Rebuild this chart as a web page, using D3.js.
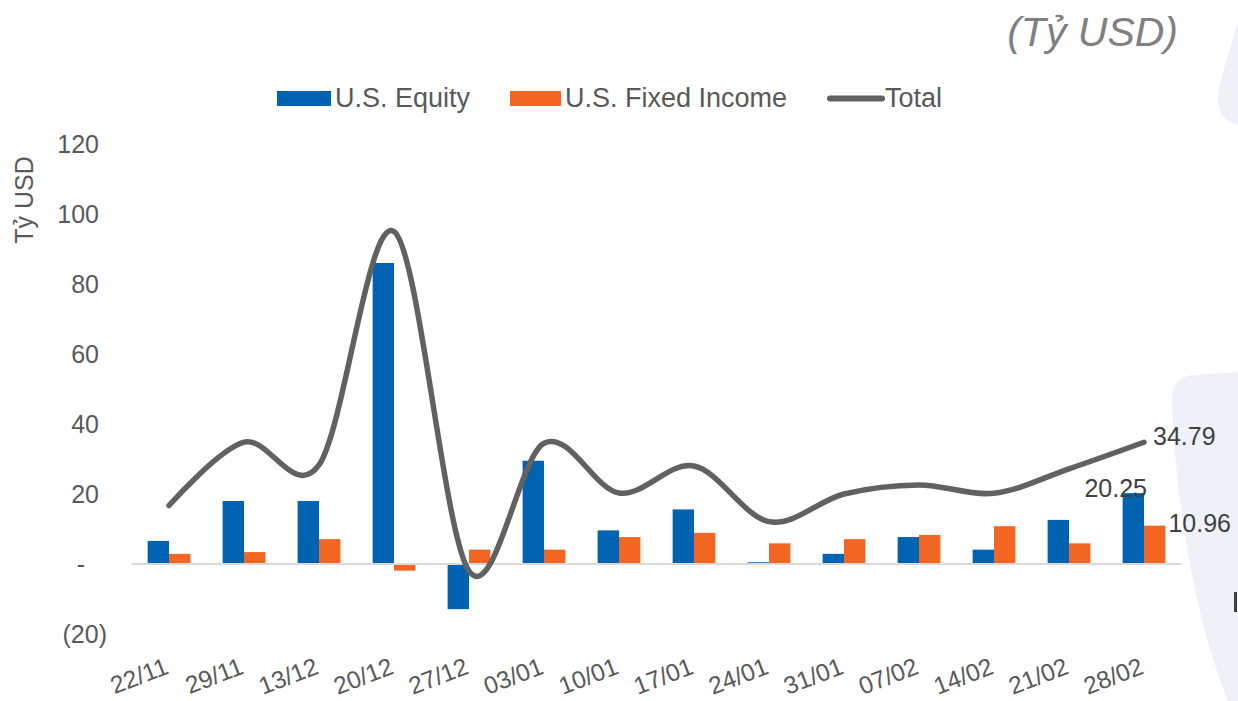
<!DOCTYPE html>
<html>
<head>
<meta charset="utf-8">
<script src="https://cdn.jsdelivr.net/npm/d3@7/dist/d3.min.js"></script>
<style>
  html, body { margin: 0; padding: 0; background: #ffffff; }
  svg { display: block; font-family: "Liberation Sans", Arial, sans-serif; }
</style>
</head>
<body>
<svg id="chart" width="1238" height="701"></svg>
<script>
// ---- data ----
const categories = ["22/11","29/11","13/12","20/12","27/12","03/01","10/01","17/01","24/01","31/01","07/02","14/02","21/02","28/02"];
const equity     = [6.6, 18.0, 18.0, 86.0, -12.9, 29.5, 9.6, 15.6, 0.5, 2.9, 7.7, 4.1, 12.6, 20.25];
const fixedIncome= [2.9, 3.4, 7.1, -1.9, 4.1, 4.1, 7.7, 8.9, 5.9, 7.1, 8.3, 10.8, 5.9, 10.96];
const total      = [16.7, 34.8, 28.3, 95.0, -2.0, 34.5, 20.3, 28.0, 12.1, 20.0, 22.6, 20.2, 27.2, 34.79];
const yTicks     = [-20, 0, 20, 40, 60, 80, 100, 120];
const seriesNames= ["U.S. Equity", "U.S. Fixed Income", "Total"];

// ---- styles ----
const BLUE = "#0063B2", ORANGE = "#F26522", GREY = "#616161", TXT = "#595959";

const svg = d3.select("#chart");

// background decorations
svg.append("path")
  .attr("d", "M1238,372 L1192,375 Q1172,378 1172,400 C1175,500 1195,620 1228,701 L1238,701 Z")
  .attr("fill", "#eef2f8");
svg.append("path")
  .attr("d", "M1238,22 C1230,50 1219,80 1218,100 Q1219,121 1238,125 Z")
  .attr("fill", "#eef2f8");
svg.append("rect").attr("x", 1234).attr("y", 592).attr("width", 3).attr("height", 20).attr("fill", "#404040");

// ---- scales ----
const x = d3.scaleBand().domain(categories).range([131.5, 1181.5]).paddingInner(0.43).paddingOuter(0.215);
const xs = d3.scaleBand().domain(["eq", "fi"]).range([0, x.bandwidth()]);
const y = d3.scaleLinear().domain([-20, 120]).range([634, 144]);

// ---- title ----
svg.append("text").attr("x", 1178).attr("y", 46).attr("text-anchor", "end")
  .attr("font-size", 41).attr("font-style", "italic").attr("fill", "#808080").text("(Tỷ USD)");

// ---- y axis ----
const yAxis = svg.append("g").attr("transform", "translate(107,0)")
  .call(d3.axisLeft(y).tickValues(yTicks).tickSize(0).tickPadding(0)
    .tickFormat(d => d === 0 ? "-" : (d < 0 ? "(" + Math.abs(d) + ")" : String(d))));
yAxis.select(".domain").remove();
yAxis.selectAll("text")
  .attr("font-size", 25).attr("fill", TXT).attr("font-family", "Liberation Sans, Arial, sans-serif")
  .attr("x", d => d < 0 ? 0 : (d === 0 ? -22 : -8));

svg.append("text")
  .attr("transform", "translate(33,200) rotate(-90)")
  .attr("text-anchor", "middle").attr("font-size", 25).attr("fill", TXT).text("Tỷ USD");

// ---- bars ----
const g = svg.append("g");
const groups = g.selectAll("g.grp").data(categories).join("g")
  .attr("class", "grp").attr("transform", d => `translate(${x(d)},0)`);
groups.append("rect")
  .attr("x", xs("eq")).attr("width", xs.bandwidth())
  .attr("y", (d, i) => y(Math.max(0, equity[i])))
  .attr("height", (d, i) => Math.abs(y(equity[i]) - y(0)))
  .attr("fill", BLUE);
groups.append("rect")
  .attr("x", xs("fi")).attr("width", xs.bandwidth())
  .attr("y", (d, i) => y(Math.max(0, fixedIncome[i])))
  .attr("height", (d, i) => Math.abs(y(fixedIncome[i]) - y(0)))
  .attr("fill", ORANGE);

// baseline
svg.append("line").attr("x1", x.range()[0]).attr("x2", x.range()[1])
  .attr("y1", y(0)).attr("y2", y(0)).attr("stroke", "#d9d9d9").attr("stroke-width", 2);

// ---- total line ----
const line = d3.line()
  .x((d, i) => x(categories[i]) + x.bandwidth() / 2)
  .y(d => y(d))
  .curve(d3.curveCardinal.tension(0));
svg.append("path").datum(total).attr("d", line)
  .attr("fill", "none").attr("stroke", GREY).attr("stroke-width", 5.5)
  .attr("stroke-linecap", "round").attr("stroke-linejoin", "round");

// ---- data labels (last point) ----
const last = categories.length - 1;
const lc = categories[last];
svg.append("text").attr("x", x(lc) + x.bandwidth() / 2 + 9).attr("y", y(total[last]) + 3)
  .attr("font-size", 25).attr("fill", "#404040").text(total[last].toFixed(2));
svg.append("text").attr("x", x(lc) + xs("eq") + xs.bandwidth() + 3).attr("y", y(equity[last]) + 4)
  .attr("text-anchor", "end").attr("font-size", 25).attr("fill", "#404040").text(equity[last].toFixed(2));
svg.append("text").attr("x", x(lc) + x.bandwidth() + 3).attr("y", y(fixedIncome[last]) + 6)
  .attr("font-size", 25).attr("fill", "#404040").text(fixedIncome[last].toFixed(2));

// ---- x axis labels ----
svg.append("g").selectAll("text").data(categories).join("text")
  .attr("transform", d => `translate(${x(d) + x.bandwidth() / 2 + 1},${673}) rotate(-21)`)
  .attr("text-anchor", "end").attr("font-size", 24.5).attr("fill", TXT).text(d => d);

// ---- legend ----
const leg = svg.append("g");
leg.append("rect").attr("x", 277).attr("y", 91).attr("width", 54).attr("height", 15).attr("fill", BLUE);
leg.append("text").attr("x", 335).attr("y", 107).attr("font-size", 27).attr("fill", TXT).text(seriesNames[0]);
leg.append("rect").attr("x", 510).attr("y", 91).attr("width", 51).attr("height", 15).attr("fill", ORANGE);
leg.append("text").attr("x", 565).attr("y", 107).attr("font-size", 27).attr("fill", TXT).text(seriesNames[1]);
leg.append("line").attr("x1", 830).attr("x2", 882).attr("y1", 98.5).attr("y2", 98.5)
  .attr("stroke", GREY).attr("stroke-width", 6).attr("stroke-linecap", "round");
leg.append("text").attr("x", 885).attr("y", 107).attr("font-size", 27).attr("fill", TXT).text(seriesNames[2]);
</script>
</body>
</html>
